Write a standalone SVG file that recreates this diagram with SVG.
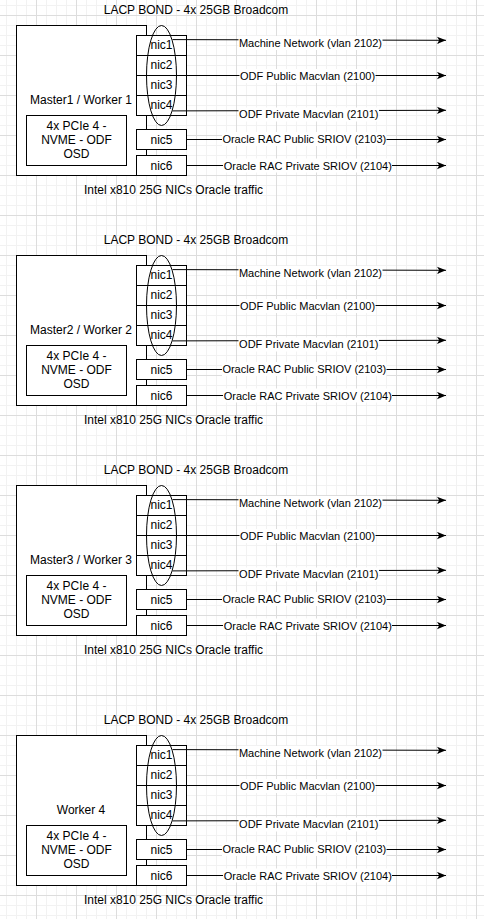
<svg xmlns="http://www.w3.org/2000/svg" width="484" height="919" viewBox="0 0 484 919">
<style>
.box{fill:#ffffff;stroke:#000000;stroke-width:1}
.ell{fill:none;stroke:#000000;stroke-width:1}
.t12{font-family:"Liberation Sans",Arial,Helvetica,sans-serif;font-size:12px;fill:#000000;text-anchor:middle}
.t11{font-family:"Liberation Sans",Arial,Helvetica,sans-serif;font-size:11px;fill:#000000;text-anchor:middle}
.edge{fill:none;stroke:#000000;stroke-width:1;marker-end:url(#arr)}
.lbg{fill:#ffffff;stroke:none}
</style>
<defs>
<marker id="arr" markerUnits="userSpaceOnUse" viewBox="0 0 9 8" markerWidth="9" markerHeight="8" refX="9" refY="4" orient="auto">
<path d="M0,0.35 L9,4 L0,7.65 L2.2,4 Z" fill="#000000"/>
</marker>
<pattern id="grid" patternUnits="userSpaceOnUse" x="36" y="15" width="40" height="40">
<rect x="10" y="0" width="1" height="40" fill="#f2f2f2"/>
<rect x="20" y="0" width="1" height="40" fill="#f2f2f2"/>
<rect x="30" y="0" width="1" height="40" fill="#f2f2f2"/>
<rect x="0" y="10" width="40" height="1" fill="#f2f2f2"/>
<rect x="0" y="20" width="40" height="1" fill="#f2f2f2"/>
<rect x="0" y="30" width="40" height="1" fill="#f2f2f2"/>
<rect x="0" y="0" width="1" height="40" fill="#dddddd"/>
<rect x="0" y="0" width="40" height="1" fill="#dddddd"/>
</pattern>
</defs>
<rect x="0" y="0" width="484" height="919" fill="#ffffff"/>
<rect x="0" y="0" width="484" height="919" fill="url(#grid)"/>

<!-- Block 1 -->
<g id="block1">
<text id="b1-title" class="t12" x="196" y="14">LACP BOND - 4x 25GB Broadcom</text>
<g id="b1-server"><rect class="box" x="16.5" y="25.5" width="130" height="150"/><text class="t12" x="81" y="104">Master1 / Worker 1</text></g>
<g id="b1-storage"><rect class="box" x="26.5" y="115.5" width="100" height="50"/><text class="t12" x="76.5" y="130">4x PCIe 4 -</text><text class="t12" x="76.5" y="144">NVME - ODF</text><text class="t12" x="76.5" y="158">OSD</text></g>
<g id="b1-nic1"><rect class="box" x="136.5" y="35.5" width="50" height="20"/><text class="t12" x="161.5" y="49">nic1</text></g>
<g id="b1-nic2"><rect class="box" x="136.5" y="55.5" width="50" height="20"/><text class="t12" x="161.5" y="69">nic2</text></g>
<g id="b1-nic3"><rect class="box" x="136.5" y="75.5" width="50" height="20"/><text class="t12" x="161.5" y="89">nic3</text></g>
<g id="b1-nic4"><rect class="box" x="136.5" y="95.5" width="50" height="20"/><text class="t12" x="161.5" y="109">nic4</text></g>
<g id="b1-nic5"><rect class="box" x="136.5" y="129.5" width="50" height="20"/><text class="t12" x="161.5" y="143.5">nic5</text></g>
<g id="b1-nic6"><rect class="box" x="136.5" y="155.5" width="50" height="20"/><text class="t12" x="161.5" y="169.5">nic6</text></g>
<g id="b1-bond"><ellipse class="ell" cx="161.5" cy="75.5" rx="15" ry="50"/></g>
<text id="b1-footer" class="t12" x="173.5" y="193.5">Intel x810 25G NICs Oracle traffic</text>
<g id="b1-connectors">
<path class="edge" d="M172.5,39.6 L446,40.3"/>
<path class="edge" d="M186.5,75.5 L446,75.5"/>
<path class="edge" d="M172.5,110.9 L446,110.3"/>
<path class="edge" d="M186.5,139.5 L446,139.5"/>
<path class="edge" d="M186.5,165.5 L446,165.5"/>
<rect class="lbg" x="238.5" y="36" width="144" height="14"/><text class="t11" x="310.5" y="47">Machine Network (vlan 2102)</text>
<rect class="lbg" x="239.5" y="69" width="136" height="14"/><text class="t11" x="307.5" y="80">ODF Public Macvlan (2100)</text>
<rect class="lbg" x="238.5" y="107.5" width="140.5" height="14"/><text class="t11" x="308.8" y="118.3">ODF Private Macvlan (2101)</text>
<rect class="lbg" x="222" y="132" width="164.5" height="14"/><text class="t11" x="304.3" y="143">Oracle RAC Public SRIOV (2103)</text>
<rect class="lbg" x="223" y="158.5" width="169" height="14"/><text class="t11" x="307.8" y="169.7">Oracle RAC Private SRIOV (2104)</text>
</g>
</g>

<!-- Block 2 -->
<g id="block2" transform="translate(0,230)">
<text id="b2-title" class="t12" x="196" y="14">LACP BOND - 4x 25GB Broadcom</text>
<g id="b2-server"><rect class="box" x="16.5" y="25.5" width="130" height="150"/><text class="t12" x="81" y="104">Master2 / Worker 2</text></g>
<g id="b2-storage"><rect class="box" x="26.5" y="115.5" width="100" height="50"/><text class="t12" x="76.5" y="130">4x PCIe 4 -</text><text class="t12" x="76.5" y="144">NVME - ODF</text><text class="t12" x="76.5" y="158">OSD</text></g>
<g id="b2-nic1"><rect class="box" x="136.5" y="35.5" width="50" height="20"/><text class="t12" x="161.5" y="49">nic1</text></g>
<g id="b2-nic2"><rect class="box" x="136.5" y="55.5" width="50" height="20"/><text class="t12" x="161.5" y="69">nic2</text></g>
<g id="b2-nic3"><rect class="box" x="136.5" y="75.5" width="50" height="20"/><text class="t12" x="161.5" y="89">nic3</text></g>
<g id="b2-nic4"><rect class="box" x="136.5" y="95.5" width="50" height="20"/><text class="t12" x="161.5" y="109">nic4</text></g>
<g id="b2-nic5"><rect class="box" x="136.5" y="129.5" width="50" height="20"/><text class="t12" x="161.5" y="143.5">nic5</text></g>
<g id="b2-nic6"><rect class="box" x="136.5" y="155.5" width="50" height="20"/><text class="t12" x="161.5" y="169.5">nic6</text></g>
<g id="b2-bond"><ellipse class="ell" cx="161.5" cy="75.5" rx="15" ry="50"/></g>
<text id="b2-footer" class="t12" x="173.5" y="193.5">Intel x810 25G NICs Oracle traffic</text>
<g id="b2-connectors">
<path class="edge" d="M172.5,39.6 L446,40.3"/>
<path class="edge" d="M186.5,75.5 L446,75.5"/>
<path class="edge" d="M172.5,110.9 L446,110.3"/>
<path class="edge" d="M186.5,139.5 L446,139.5"/>
<path class="edge" d="M186.5,165.5 L446,165.5"/>
<rect class="lbg" x="238.5" y="36" width="144" height="14"/><text class="t11" x="310.5" y="47">Machine Network (vlan 2102)</text>
<rect class="lbg" x="239.5" y="69" width="136" height="14"/><text class="t11" x="307.5" y="80">ODF Public Macvlan (2100)</text>
<rect class="lbg" x="238.5" y="107.5" width="140.5" height="14"/><text class="t11" x="308.8" y="118.3">ODF Private Macvlan (2101)</text>
<rect class="lbg" x="222" y="132" width="164.5" height="14"/><text class="t11" x="304.3" y="143">Oracle RAC Public SRIOV (2103)</text>
<rect class="lbg" x="223" y="158.5" width="169" height="14"/><text class="t11" x="307.8" y="169.7">Oracle RAC Private SRIOV (2104)</text>
</g>
</g>

<!-- Block 3 -->
<g id="block3" transform="translate(0,460)">
<text id="b3-title" class="t12" x="196" y="14">LACP BOND - 4x 25GB Broadcom</text>
<g id="b3-server"><rect class="box" x="16.5" y="25.5" width="130" height="150"/><text class="t12" x="81" y="104">Master3 / Worker 3</text></g>
<g id="b3-storage"><rect class="box" x="26.5" y="115.5" width="100" height="50"/><text class="t12" x="76.5" y="130">4x PCIe 4 -</text><text class="t12" x="76.5" y="144">NVME - ODF</text><text class="t12" x="76.5" y="158">OSD</text></g>
<g id="b3-nic1"><rect class="box" x="136.5" y="35.5" width="50" height="20"/><text class="t12" x="161.5" y="49">nic1</text></g>
<g id="b3-nic2"><rect class="box" x="136.5" y="55.5" width="50" height="20"/><text class="t12" x="161.5" y="69">nic2</text></g>
<g id="b3-nic3"><rect class="box" x="136.5" y="75.5" width="50" height="20"/><text class="t12" x="161.5" y="89">nic3</text></g>
<g id="b3-nic4"><rect class="box" x="136.5" y="95.5" width="50" height="20"/><text class="t12" x="161.5" y="109">nic4</text></g>
<g id="b3-nic5"><rect class="box" x="136.5" y="129.5" width="50" height="20"/><text class="t12" x="161.5" y="143.5">nic5</text></g>
<g id="b3-nic6"><rect class="box" x="136.5" y="155.5" width="50" height="20"/><text class="t12" x="161.5" y="169.5">nic6</text></g>
<g id="b3-bond"><ellipse class="ell" cx="161.5" cy="75.5" rx="15" ry="50"/></g>
<text id="b3-footer" class="t12" x="173.5" y="193.5">Intel x810 25G NICs Oracle traffic</text>
<g id="b3-connectors">
<path class="edge" d="M172.5,39.6 L446,40.3"/>
<path class="edge" d="M186.5,75.5 L446,75.5"/>
<path class="edge" d="M172.5,110.9 L446,110.3"/>
<path class="edge" d="M186.5,139.5 L446,139.5"/>
<path class="edge" d="M186.5,165.5 L446,165.5"/>
<rect class="lbg" x="238.5" y="36" width="144" height="14"/><text class="t11" x="310.5" y="47">Machine Network (vlan 2102)</text>
<rect class="lbg" x="239.5" y="69" width="136" height="14"/><text class="t11" x="307.5" y="80">ODF Public Macvlan (2100)</text>
<rect class="lbg" x="238.5" y="107.5" width="140.5" height="14"/><text class="t11" x="308.8" y="118.3">ODF Private Macvlan (2101)</text>
<rect class="lbg" x="222" y="132" width="164.5" height="14"/><text class="t11" x="304.3" y="143">Oracle RAC Public SRIOV (2103)</text>
<rect class="lbg" x="223" y="158.5" width="169" height="14"/><text class="t11" x="307.8" y="169.7">Oracle RAC Private SRIOV (2104)</text>
</g>
</g>

<!-- Block 4 -->
<g id="block4" transform="translate(0,710)">
<text id="b4-title" class="t12" x="196" y="14">LACP BOND - 4x 25GB Broadcom</text>
<g id="b4-server"><rect class="box" x="16.5" y="25.5" width="130" height="150"/><text class="t12" x="81" y="104">Worker 4</text></g>
<g id="b4-storage"><rect class="box" x="26.5" y="115.5" width="100" height="50"/><text class="t12" x="76.5" y="130">4x PCIe 4 -</text><text class="t12" x="76.5" y="144">NVME - ODF</text><text class="t12" x="76.5" y="158">OSD</text></g>
<g id="b4-nic1"><rect class="box" x="136.5" y="35.5" width="50" height="20"/><text class="t12" x="161.5" y="49">nic1</text></g>
<g id="b4-nic2"><rect class="box" x="136.5" y="55.5" width="50" height="20"/><text class="t12" x="161.5" y="69">nic2</text></g>
<g id="b4-nic3"><rect class="box" x="136.5" y="75.5" width="50" height="20"/><text class="t12" x="161.5" y="89">nic3</text></g>
<g id="b4-nic4"><rect class="box" x="136.5" y="95.5" width="50" height="20"/><text class="t12" x="161.5" y="109">nic4</text></g>
<g id="b4-nic5"><rect class="box" x="136.5" y="129.5" width="50" height="20"/><text class="t12" x="161.5" y="143.5">nic5</text></g>
<g id="b4-nic6"><rect class="box" x="136.5" y="155.5" width="50" height="20"/><text class="t12" x="161.5" y="169.5">nic6</text></g>
<g id="b4-bond"><ellipse class="ell" cx="161.5" cy="75.5" rx="15" ry="50"/></g>
<text id="b4-footer" class="t12" x="173.5" y="193.5">Intel x810 25G NICs Oracle traffic</text>
<g id="b4-connectors">
<path class="edge" d="M172.5,39.6 L446,40.3"/>
<path class="edge" d="M186.5,75.5 L446,75.5"/>
<path class="edge" d="M172.5,110.9 L446,110.3"/>
<path class="edge" d="M186.5,139.5 L446,139.5"/>
<path class="edge" d="M186.5,165.5 L446,165.5"/>
<rect class="lbg" x="238.5" y="36" width="144" height="14"/><text class="t11" x="310.5" y="47">Machine Network (vlan 2102)</text>
<rect class="lbg" x="239.5" y="69" width="136" height="14"/><text class="t11" x="307.5" y="80">ODF Public Macvlan (2100)</text>
<rect class="lbg" x="238.5" y="107.5" width="140.5" height="14"/><text class="t11" x="308.8" y="118.3">ODF Private Macvlan (2101)</text>
<rect class="lbg" x="222" y="132" width="164.5" height="14"/><text class="t11" x="304.3" y="143">Oracle RAC Public SRIOV (2103)</text>
<rect class="lbg" x="223" y="158.5" width="169" height="14"/><text class="t11" x="307.8" y="169.7">Oracle RAC Private SRIOV (2104)</text>
</g>
</g>
</svg>
